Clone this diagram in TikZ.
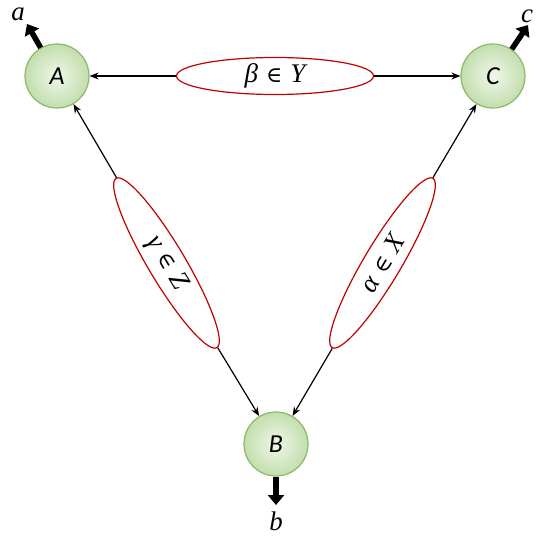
\documentclass[tikz,border=0pt]{standalone}
\usepackage{fontspec}
\newfontfamily\calfont{Carlito}
\newfontfamily\serfont{Liberation Serif}
\newfontfamily\symfont{DejaVu Serif}
\newcommand{\mv}[1]{{\serfont\itshape #1}}
\newcommand{\elt}{{\symfont\fontsize{22}{26}\selectfont ∈}}
\usetikzlibrary{shapes.geometric,arrows.meta,calc}
\definecolor{nodeborder}{HTML}{8CB867}
\definecolor{nodein}{HTML}{F0F7EA}
\definecolor{nodeout}{HTML}{C2DEAE}
\definecolor{ellred}{HTML}{C00000}
\begin{document}
\begin{tikzpicture}[x=1bp,y=-1bp,
  vert/.style={circle, minimum size=64bp, inner sep=0pt, draw=nodeborder, line width=1.2bp,
     shading=radial, inner color=nodein, outer color=nodeout,
     font=\calfont\itshape\fontsize{26}{30}\selectfont},
  setell/.style={ellipse, minimum width=197bp, minimum height=37bp, inner sep=0pt,
     draw=ellred, line width=1.2bp, fill=white, font=\fontsize{27}{30}\selectfont},
  conn/.style={line width=1.2bp, -{Stealth[length=9bp,width=7bp]}},
  outarr/.style={line width=5.5bp, -{Triangle[length=10bp,width=16bp]}},
  outlab/.style={font=\fontsize{27}{30}\selectfont, inner sep=0pt}]
\useasboundingbox (0,0) rectangle (540,540);
\node[vert] (A) at (57,76) {A};
\node[vert] (C) at (493,76) {C};
\node[vert] (B) at (276,444) {B};
\node[setell] (bet) at ($(A)!0.5!(C)$) {\mv{β} \elt{} \mv{Y}};
\node[setell, rotate=-59.24] (gam) at ($(A)!0.5!(B)+(0,3)$) {\mv{γ} \elt{} \mv{Z}};
\node[setell, rotate=59.24] (alp) at ($(C)!0.5!(B)+(-2,3)$) {\mv{α} \elt{} \mv{X}};
\draw[conn] (bet) -- (A);
\draw[conn] (bet) -- (C);
\draw[conn] (gam) -- (A);
\draw[conn] (gam) -- (B);
\draw[conn] (alp) -- (B);
\draw[conn] (alp) -- (C);
\coordinate (ta) at (27,24);
\coordinate (tc) at (528,25);
\coordinate (tb) at (276,505);
\draw[outarr] (A.120) -- (ta);
\draw[outarr] (C.55) -- (tc);
\draw[outarr] (B.south) -- (tb);
\node[outlab] (la) at (18,14) {\mv{a}};
\node[outlab] (lc) at (527,16) {\mv{c}};
\node[outlab] (lb) at (276,521) {\mv{b}};
\end{tikzpicture}
\end{document}
